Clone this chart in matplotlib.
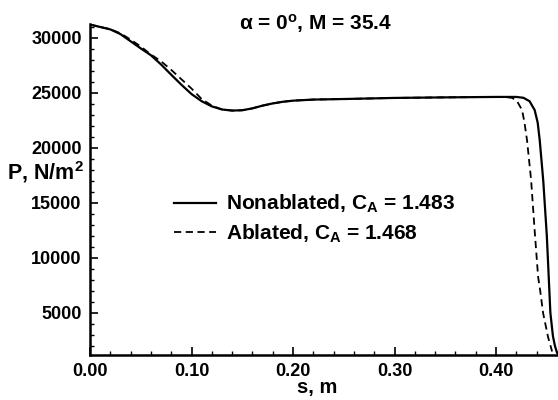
import matplotlib
matplotlib.use("Agg")
import matplotlib.pyplot as plt
from matplotlib.ticker import MultipleLocator, FormatStrFormatter

plt.rcParams['font.family'] = ['Liberation Sans', 'DejaVu Sans']
plt.rcParams['font.weight'] = 'bold'
plt.rcParams['mathtext.fontset'] = 'custom'
plt.rcParams['mathtext.rm'] = 'Liberation Sans:bold'
plt.rcParams['mathtext.bf'] = 'Liberation Sans:bold'
plt.rcParams['mathtext.it'] = 'Liberation Sans:bold'

# surface distance s (m) and pressure P (N/m^2)
s_non = [0.000, 0.010, 0.020, 0.030, 0.040, 0.050, 0.060, 0.070, 0.080, 0.090,
         0.100, 0.110, 0.120, 0.130, 0.140, 0.150, 0.160, 0.170, 0.180, 0.190,
         0.200, 0.220, 0.250, 0.300, 0.350, 0.400, 0.420, 0.427, 0.433, 0.438,
         0.441, 0.443, 0.4465, 0.450, 0.452, 0.4535, 0.456, 0.458, 0.460]
p_non = [31220, 31000, 30780, 30350, 29700, 29050, 28430, 27590, 26660, 25750,
         24900, 24250, 23780, 23500, 23400, 23430, 23600, 23850, 24050, 24200,
         24300, 24400, 24450, 24550, 24600, 24640, 24640, 24560, 24250, 23450,
         22300, 20700, 17000, 12000, 8000, 5000, 2900, 2000, 1400]

s_abl = [0.000, 0.010, 0.020, 0.030, 0.040, 0.050, 0.060, 0.070, 0.080, 0.090,
         0.100, 0.110, 0.120, 0.130, 0.140, 0.150, 0.160, 0.170, 0.180, 0.190,
         0.200, 0.220, 0.250, 0.300, 0.350, 0.400, 0.410, 0.416, 0.421, 0.4256,
         0.428, 0.4305, 0.4345, 0.438, 0.4414, 0.4435, 0.4463, 0.4512, 0.4552]
p_abl = [31220, 31000, 30800, 30420, 29850, 29220, 28500, 27880, 27100, 26250,
         25400, 24450, 23850, 23500, 23400, 23430, 23600, 23850, 24050, 24200,
         24300, 24400, 24450, 24550, 24600, 24640, 24620, 24550, 24200, 23450,
         22300, 20700, 17100, 12500, 8300, 7000, 5000, 2820, 1500]

labels = [r'Nonablated, C$_\mathbf{A}$ = 1.483', r'Ablated, C$_\mathbf{A}$ = 1.468']

fig = plt.figure(figsize=(5.58, 4.0), dpi=100)
ax = fig.add_axes([90/558, 45/400, 468/558, 331/400])

ax.plot(s_non, p_non, color='black', lw=1.6, label=labels[0])
ax.plot(s_abl, p_abl, color='black', lw=1.3, linestyle=(0, (4, 2.5)), label=labels[1])

ax.set_xlim(0.0, 0.461)
ax.set_ylim(1180, 31270)

ax.xaxis.set_major_locator(MultipleLocator(0.1))
ax.xaxis.set_minor_locator(MultipleLocator(0.02))
ax.xaxis.set_major_formatter(FormatStrFormatter('%.2f'))
ax.yaxis.set_major_locator(MultipleLocator(5000))
ax.yaxis.set_minor_locator(MultipleLocator(1000))

ax.spines['top'].set_visible(False)
ax.spines['right'].set_visible(False)
ax.spines['left'].set_linewidth(1.8)
ax.spines['bottom'].set_linewidth(1.8)
ax.tick_params(which='major', direction='in', length=6, width=1.2, labelsize=13, pad=6)
ax.tick_params(which='minor', direction='in', length=3, width=1.0)
for t in ax.get_xticklabels() + ax.get_yticklabels():
    t.set_fontweight('bold')

fig.text(0.081, 0.57, r'P, N/m$^\mathbf{2}$', fontsize=15.5, fontweight='bold', ha='center', va='center')
fig.text(317/558, 0.03, 's, m', fontsize=14.5, fontweight='bold', ha='center', va='center')
fig.text(316/558, 1 - 24/400, r'α = 0$^\mathbf{o}$, M = 35.4', fontsize=15, fontweight='bold',
         ha='center', va='center')

leg = ax.legend(loc='upper left', bbox_to_anchor=(0.18, 0.49), frameon=False,
                prop={'size': 15, 'weight': 'bold'}, handlelength=2.0, handletextpad=0.5,
                borderpad=0, borderaxespad=0, labelspacing=0.35)

fig.savefig('out.png', dpi=100)
